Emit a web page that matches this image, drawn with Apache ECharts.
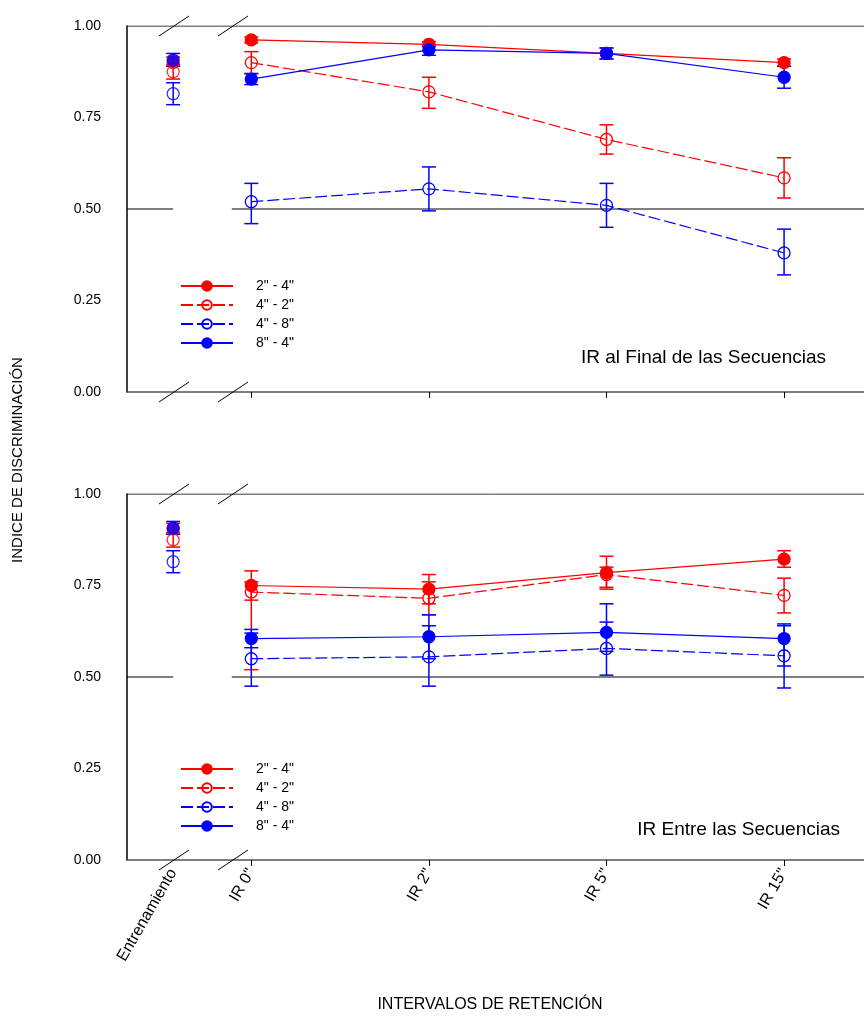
<!DOCTYPE html>
<html>
<head>
<meta charset="UTF-8">
<script src="https://cdn.jsdelivr.net/npm/echarts@6/dist/echarts.min.js"></script>
</head>
<body style="margin:0">
<div id="main" style="width:864px;height:1016px;"></div>
<script>
// x positions: Entrenamiento, IR 0", IR 2", IR 5", IR 15"
var xPos = [-0.44, 0, 1, 2, 3];
var xLabels = ['Entrenamiento', 'IR 0"', 'IR 2"', 'IR 5"', 'IR 15"'];
var seriesNames = ['2" - 4"', '4" - 2"', '4" - 8"', '8" - 4"'];

// top panel: IR al Final de las Secuencias  [mean, low, high]
var top24 = [[0.90,0.89,0.915],[0.962,0.954,0.97],[0.95,0.943,0.957],[0.925,0.91,0.94],[0.90,0.89,0.91]];
var top42 = [[0.875,0.855,0.895],[0.90,0.87,0.93],[0.82,0.775,0.86],[0.69,0.65,0.73],[0.585,0.53,0.64]];
var top48 = [[0.815,0.785,0.845],[0.52,0.46,0.57],[0.555,0.495,0.615],[0.51,0.45,0.57],[0.38,0.32,0.445]];
var top84 = [[0.907,0.89,0.925],[0.855,0.84,0.87],[0.935,0.92,0.945],[0.925,0.91,0.94],[0.86,0.83,0.89]];

// bottom panel: IR Entre las Secuencias
var bot24 = [[0.905,0.89,0.92],[0.75,0.71,0.79],[0.74,0.70,0.78],[0.785,0.745,0.83],[0.822,0.80,0.845]];
var bot42 = [[0.875,0.855,0.895],[0.732,0.52,0.76],[0.715,0.67,0.76],[0.78,0.74,0.80],[0.723,0.675,0.77]];
var bot48 = [[0.815,0.785,0.845],[0.55,0.475,0.62],[0.555,0.475,0.64],[0.578,0.505,0.65],[0.558,0.47,0.64]];
var bot84 = [[0.907,0.89,0.925],[0.605,0.58,0.63],[0.61,0.55,0.67],[0.622,0.57,0.70],[0.605,0.53,0.645]];

var RED = '#ff0000', BLUE = '#0000ff';
var styles = [
    {color: RED, fill: RED, dash: 'solid'},
    {color: RED, fill: 'rgba(0,0,0,0)', dash: [12, 4]},
    {color: BLUE, fill: 'rgba(0,0,0,0)', dash: [12, 4]},
    {color: BLUE, fill: BLUE, dash: 'solid'}
];

function makeSeries(sets, gi) {
    var out = [];
    sets.forEach(function (d, k) {
        var st = styles[k];
        out.push({
            type: 'custom', xAxisIndex: gi, yAxisIndex: gi, silent: true, z: 2,
            data: d.map(function (v, i) { return [xPos[i], v[1], v[2]]; }),
            renderItem: function (params, api) {
                var lo = api.coord([api.value(0), api.value(1)]);
                var hi = api.coord([api.value(0), api.value(2)]);
                var w = 7;
                var s = {stroke: st.color, lineWidth: 1.5};
                return {type: 'group', children: [
                    {type: 'line', shape: {x1: lo[0], y1: lo[1], x2: hi[0], y2: hi[1]}, style: s},
                    {type: 'line', shape: {x1: lo[0]-w, y1: lo[1], x2: lo[0]+w, y2: lo[1]}, style: s},
                    {type: 'line', shape: {x1: hi[0]-w, y1: hi[1], x2: hi[0]+w, y2: hi[1]}, style: s}
                ]};
            }
        });
        var item = {color: st.fill, borderColor: st.color, borderWidth: 1.3};
        out.push({
            name: seriesNames[k], type: 'line', xAxisIndex: gi, yAxisIndex: gi,
            symbol: 'circle', symbolSize: 12, z: 3,
            color: st.color,
            itemStyle: item,
            lineStyle: {color: st.color, width: 1.2, type: st.dash},
            data: d.slice(1).map(function (v, i) { return [xPos[i + 1], v[0]]; })
        });
        // training point, not joined to the rest
        out.push({
            type: 'scatter', xAxisIndex: gi, yAxisIndex: gi, silent: true, z: 3,
            symbol: 'circle', symbolSize: 12, itemStyle: item,
            data: [[xPos[0], d[0][0]]]
        });
    });
    // reference lines at 0.50 (with a gap) and 1.00
    out.push({
        type: 'line', xAxisIndex: gi, yAxisIndex: gi, silent: true, symbol: 'none', z: 1,
        lineStyle: {color: '#000', width: 1},
        data: [[-0.7, 0.5], [-0.44, 0.5], null, [-0.11, 0.5], [3.45, 0.5], null, [-0.7, 1], [3.45, 1]],
        connectNulls: false
    });
    return out;
}

var myChart = echarts.init(document.getElementById('main'));

function xAxisCfg(gi, withLabels) {
    return {
        type: 'value', gridIndex: gi, min: -0.7, max: 3.45,
        splitLine: {show: false},
        axisLine: {onZero: false, lineStyle: {color: '#555', width: 1.5}},
        axisTick: {customValues: [0, 1, 2, 3], length: 6, lineStyle: {color: '#000'}},
        axisLabel: withLabels ? {
            customValues: xPos, rotate: 60, margin: 10, color: '#000', fontSize: 16,
            fontFamily: 'Liberation Sans',
            formatter: function (v) { return xLabels[xPos.indexOf(v)]; }
        } : {show: false}
    };
}
function yAxisCfg(gi) {
    return {
        type: 'value', gridIndex: gi, min: 0, max: 1, interval: 0.25,
        splitLine: {show: false},
        axisLine: {show: true, onZero: false, lineStyle: {color: '#000', width: 1.5}},
        axisTick: {show: false},
        axisLabel: {color: '#000', fontSize: 14, margin: 26, fontFamily: 'Liberation Sans',
            formatter: function (v) { return v.toFixed(2); }}
    };
}
function legendCfg(top) {
    return {
        orient: 'vertical', left: 175, top: top, itemWidth: 52, itemHeight: 12, itemGap: 5,
        data: seriesNames,
        textStyle: {fontSize: 14, color: '#000', fontFamily: 'Liberation Sans', padding: [0, 0, 0, 18]}
    };
}

function slash(x, y) {
    return {type: 'line', shape: {x1: x, y1: y + 10, x2: x + 30, y2: y - 10},
        style: {stroke: '#000', lineWidth: 1}, z: 10};
}

var option = {
    animation: false,
    backgroundColor: '#fff',
    grid: [
        {left: 127, right: 0, top: 26, height: 366},
        {left: 127, right: 0, top: 494, height: 366}
    ],
    xAxis: [xAxisCfg(0, false), xAxisCfg(1, true)],
    yAxis: [yAxisCfg(0), yAxisCfg(1)],
    legend: [legendCfg(274), legendCfg(757)],
    series: makeSeries([top24, top42, top48, top84], 0).concat(makeSeries([bot24, bot42, bot48, bot84], 1)),
    graphic: [
        slash(159, 26), slash(218, 26), slash(159, 392), slash(218, 392),
        slash(159, 494), slash(218, 494), slash(159, 860), slash(218, 860),
        {type: 'text', right: 38, top: 348, z: 10,
            style: {text: 'IR al Final de las Secuencias', fontSize: 19, fill: '#000', fontFamily: 'Liberation Sans'}},
        {type: 'text', right: 24, top: 820, z: 10,
            style: {text: 'IR Entre las Secuencias', fontSize: 19, fill: '#000', fontFamily: 'Liberation Sans'}},
        {type: 'text', x: 10, y: 460, rotation: Math.PI / 2, z: 10,
            style: {text: 'INDICE DE DISCRIMINACIÓN', fontSize: 15, fill: '#000', align: 'center',
                verticalAlign: 'top', fontFamily: 'Liberation Sans'}},
        {type: 'text', x: 490, y: 997, z: 10,
            style: {text: 'INTERVALOS DE RETENCIÓN', fontSize: 16, fill: '#000', align: 'center',
                fontFamily: 'Liberation Sans'}}
    ]
};

myChart.setOption(option);
</script>
</body>
</html>
